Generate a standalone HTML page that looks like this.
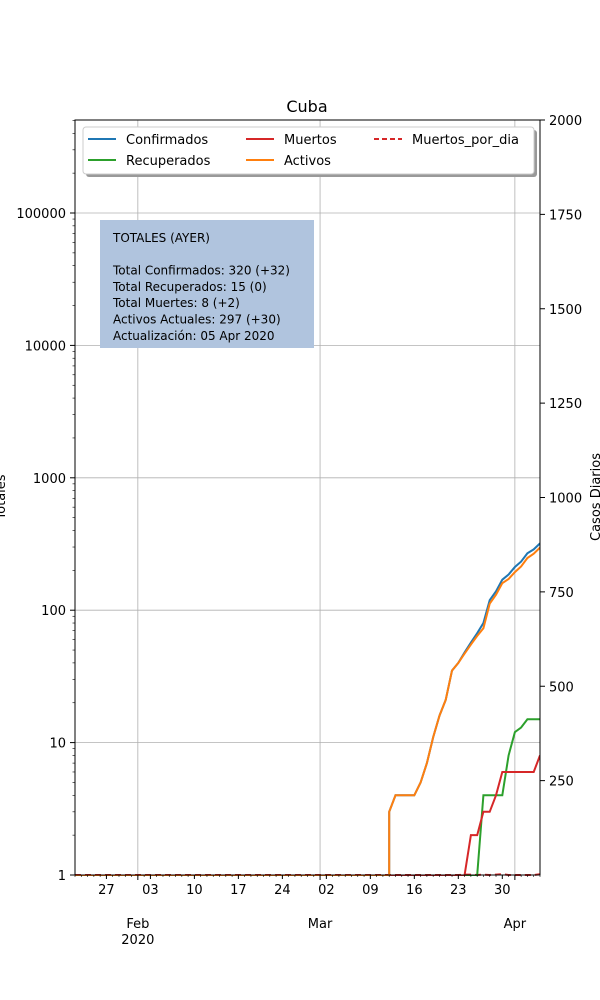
<!DOCTYPE html>
<html><head><meta charset="utf-8"><style>
html,body{margin:0;padding:0;background:#fff;overflow:hidden;width:600px;height:1000px;font-family:"Liberation Sans","DejaVu Sans",sans-serif;}
svg{display:block;}
svg text{font-family:"DejaVu Sans","Liberation Sans",sans-serif;}
</style></head><body>
<svg id="c" width="600" height="1000" xmlns="http://www.w3.org/2000/svg"></svg>
<script>
const confirmed=[3,4,4,4,4,5,7,11,16,21,35,40,48,57,67,80,119,139,170,186,212,233,269,288,320];
const recovered=[0,0,0,0,0,0,0,0,0,0,0,0,0,0,1,4,4,4,4,8,12,13,15,15,15];
const deaths=[0,0,0,0,0,0,0,0,0,0,0,0,1,2,2,3,3,4,6,6,6,6,6,6,8];
const startIdx=50;
const nDays=75;
const leftTicks=[1,10,100,1000,10000,100000];
const rightTicks=[250,500,750,1000,1250,1500,1750,2000];
const weekLabels=["27","03","10","17","24","02","09","16","23","30"];
const weekIdx=[5,12,19,26,33,40,47,54,61,68];
const months=[["Feb",10],["Mar",39],["Apr",70]];
const NS="http://www.w3.org/2000/svg";
const svg=document.getElementById('c');
const X0=75,X1=540,Y0=120,Y1=875;
const xs=d=>X0+d*(X1-X0)/(nDays-1);
const ylog=v=>v<=0?Y1+1:Y1-Math.log10(v)*132.4;
const yr=v=>Y1-v*(Y1-Y0)/2000;
function el(t,a,p){const e=document.createElementNS(NS,t);for(const k in a)e.setAttribute(k,a[k]);(p||svg).appendChild(e);return e;}
function tx(x,y,s,a,size){const e=el('text',Object.assign({x:x,y:y,'font-size':size||13,fill:'#000'},a||{}));e.textContent=s;return e;}
const defs=el('defs',{});const cp=el('clipPath',{id:'clip'},defs);el('rect',{x:X0,y:Y0,width:X1-X0,height:Y1-Y0+1},cp);
// grid
months.forEach(m=>{const g=el('line',{x1:xs(m[1]),x2:xs(m[1]),y1:Y0,y2:Y1,stroke:'#b0b0b0','stroke-width':0.8});
});
leftTicks.forEach(v=>{const g=el('line',{x1:X0,x2:X1,y1:ylog(v),y2:ylog(v),stroke:'#b0b0b0','stroke-width':0.8});
});
const plot=el('g',{'clip-path':'url(#clip)'});
// series
function series(vals,color,name,fn,isLog){let full=[];for(let i=0;i<nDays;i++){full.push(i<startIdx?0:vals(i-startIdx));}
const pts=full.map((v,i)=>{let x=xs(i);if(isLog&&v<=0&&i+1<nDays&&full[i+1]>0)x=xs(i+1);return x.toFixed(1)+','+fn(v).toFixed(1);}).join(' ');
const p=el('polyline',{points:pts,fill:'none',stroke:color,'stroke-width':2},plot);
return p;}
const pd=series(i=>i==0?deaths[0]:deaths[i]-deaths[i-1],'#d62728','muertos-por-dia-line',yr,false);
pd.setAttribute('stroke-dasharray','6,4');
series(i=>confirmed[i],'#1f77b4','confirmados-line',ylog,true);
series(i=>recovered[i],'#2ca02c','recuperados-line',ylog,true);
series(i=>deaths[i],'#d62728','muertos-line',ylog,true);
series(i=>confirmed[i]-recovered[i]-deaths[i],'#ff7f0e','activos-line',ylog,true);
// frame
const fr=el('rect',{x:X0,y:Y0,width:X1-X0,height:Y1-Y0,fill:'none',stroke:'#000','stroke-width':1});

// left ticks
leftTicks.forEach(v=>{el('line',{x1:X0-5,x2:X0,y1:ylog(v),y2:ylog(v),stroke:'#000'});
const t=tx(X0-9,ylog(v)+5,String(v),{'text-anchor':'end'});});
for(let d=0;d<6;d++)for(let m=2;m<10;m++){const y=ylog(m*Math.pow(10,d));if(y>Y0)el('line',{x1:X0-2.5,x2:X0,y1:y,y2:y,stroke:'#000','stroke-width':0.6});}
// right ticks
rightTicks.forEach(v=>{el('line',{x1:X1,x2:X1+5,y1:yr(v),y2:yr(v),stroke:'#000'});
const t=tx(X1+9,yr(v)+5,String(v));});
// x ticks
for(let i=0;i<nDays;i++)el('line',{x1:xs(i),x2:xs(i),y1:Y1,y2:Y1+2,stroke:'#000','stroke-width':0.6});
weekIdx.forEach((d,k)=>{el('line',{x1:xs(d),x2:xs(d),y1:Y1,y2:Y1+4,stroke:'#000'});
const t=tx(xs(d),Y1+19,weekLabels[k],{'text-anchor':'middle'});});
months.forEach(m=>{el('line',{x1:xs(m[1]),x2:xs(m[1]),y1:Y1,y2:Y1+5,stroke:'#000'});
const t=tx(xs(m[1]),928,m[0],{'text-anchor':'middle'});});
const yl=tx(xs(10),944,"2020",{'text-anchor':'middle'});
// titles
const ti=tx(307,112,"Cuba",{'text-anchor':'middle'},16);
const lt=tx(5,497,"Totales",{'text-anchor':'middle',transform:'rotate(-90 5 497)'});
const rt=tx(600,497,"Casos Diarios",{'text-anchor':'middle',transform:'rotate(-90 600 497)'});
// info box
const ib=el('g',{});
el('rect',{x:100,y:220,width:214,height:128,fill:'#b0c4de'},ib);
["TOTALES (AYER)","","Total Confirmados: 320 (+32)","Total Recuperados: 15 (0)","Total Muertes: 8 (+2)","Activos Actuales:    297 (+30)","Actualización: 05 Apr 2020"].forEach((s,i)=>{
const t=tx(113,242+i*16.3,s,{'xml:space':'preserve'},12);});
// legend
const lg=el('g',{});
el('rect',{x:86,y:130,width:451,height:47,rx:3,fill:'#999'},lg);
el('rect',{x:83,y:127,width:451,height:47,rx:3,fill:'#fff',stroke:'#ccc'},lg);
[["Confirmados",'#1f77b4',88,139,0],["Muertos",'#d62728',246,139,0],["Muertos_por_dia",'#d62728',374,139,1],["Recuperados",'#2ca02c',88,160,0],["Activos",'#ff7f0e',246,160,0]].forEach(e=>{
const g=el('g',{},lg);
const l=el('line',{x1:e[2],x2:e[2]+28,y1:e[3],y2:e[3],stroke:e[1],'stroke-width':2},g);if(e[4])l.setAttribute('stroke-dasharray','5,3');
const t=el('text',{x:e[2]+38,y:e[3]+5,'font-size':13},g);t.textContent=e[0];});
</script>
</body></html>
